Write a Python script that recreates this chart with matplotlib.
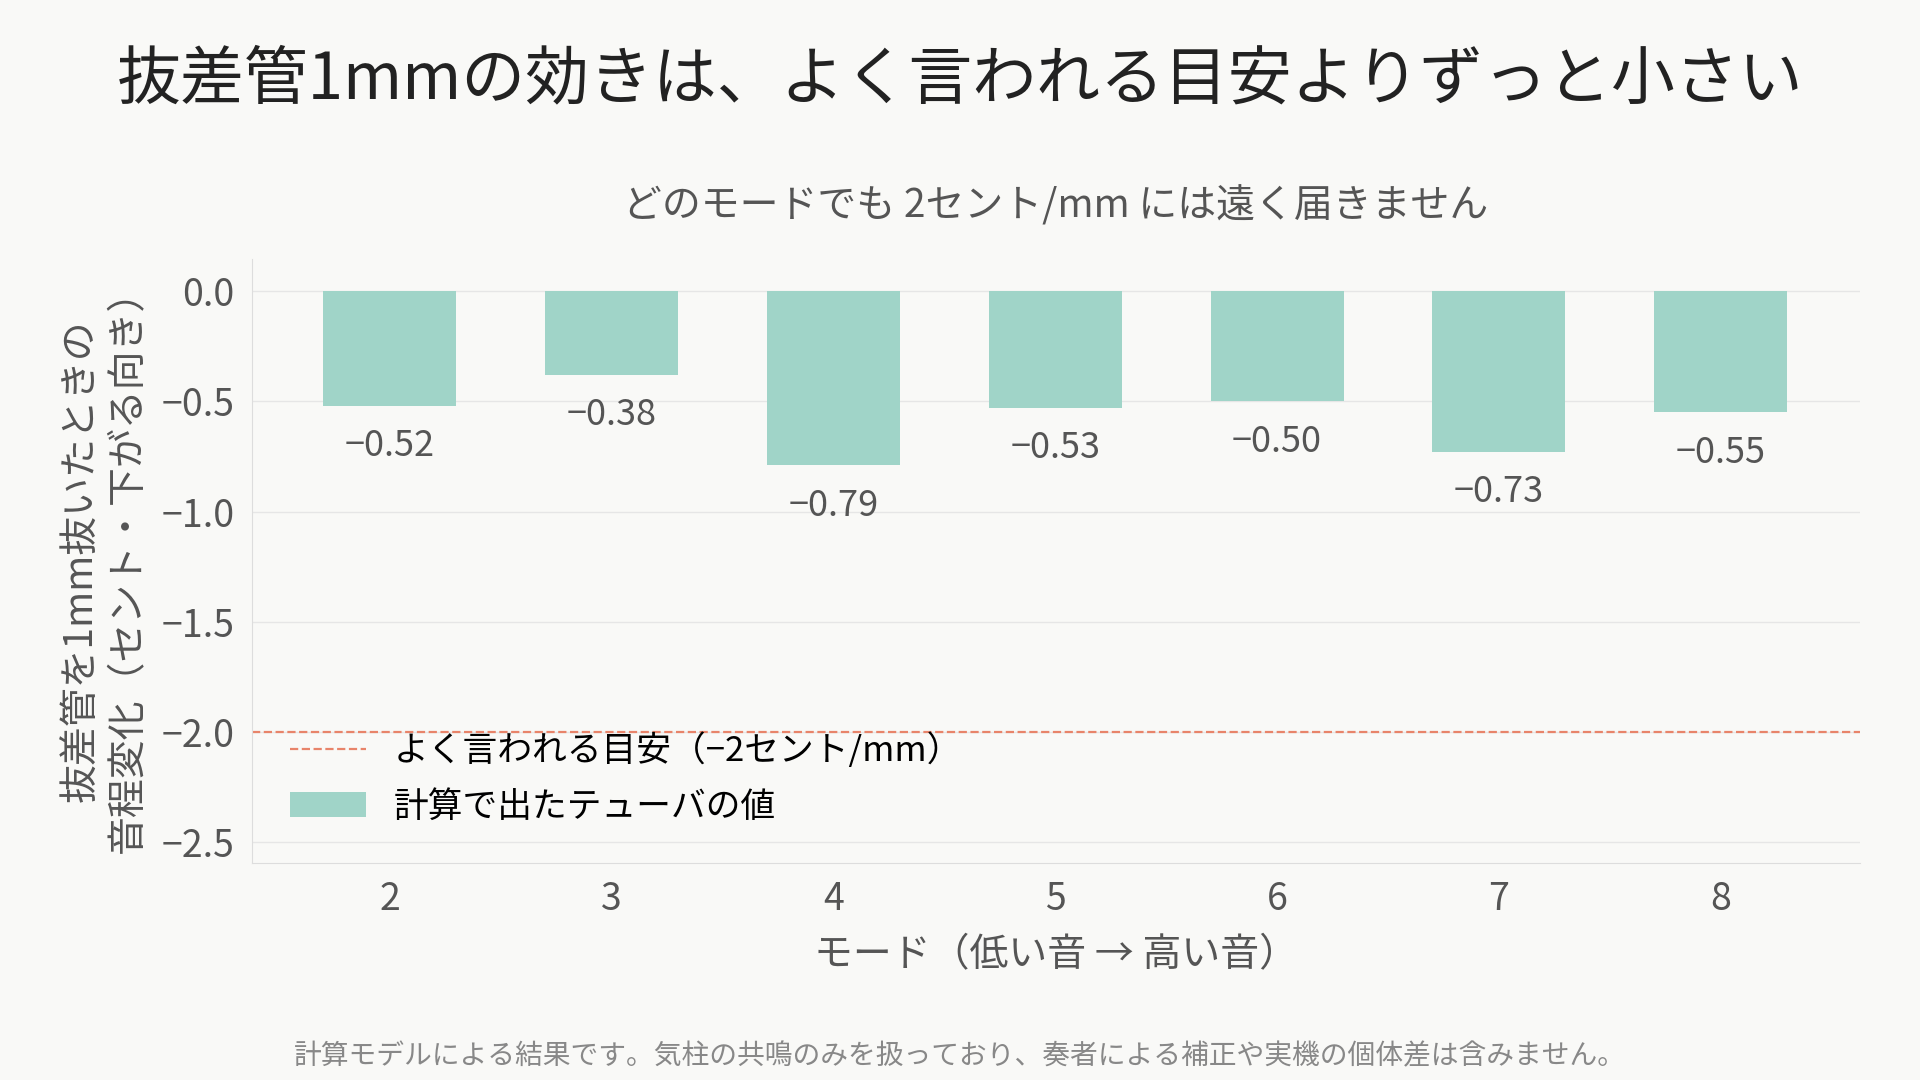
import matplotlib
matplotlib.use("Agg")
import matplotlib.pyplot as plt

plt.rcParams['font.family'] = ['Noto Sans CJK JP', 'DejaVu Sans']

modes = [2, 3, 4, 5, 6, 7, 8]
values = [-0.52, -0.38, -0.79, -0.53, -0.50, -0.73, -0.55]
labels = ["−0.52", "−0.38", "−0.79", "−0.53", "−0.50", "−0.73", "−0.55"]
guide = -2.0
yticks = [0.0, -0.5, -1.0, -1.5, -2.0, -2.5]
ytick_labels = ["0.0", "−0.5", "−1.0", "−1.5", "−2.0", "−2.5"]

bg = "#f9f9f7"
txt = "#555555"
fig = plt.figure(figsize=(19.2, 10.8), dpi=100, facecolor=bg)
ax = fig.add_axes([0.131, 0.201, 0.838, 0.559], facecolor=bg)

ax.bar(modes, values, width=0.6, color="#a0d4c8", label="計算で出たテューバの値", zorder=3)
ax.axhline(guide, color="#e8846a", linestyle="--", linewidth=1.6, label="よく言われる目安（−2セント/mm）", zorder=2)
for m, v, l in zip(modes, values, labels):
    ax.annotate(l, (m, v), xytext=(0, -16), textcoords="offset points",
                ha="center", va="top", fontsize=26, color=txt)

ax.set_xlim(1.377, 8.63)
ax.set_ylim(-2.594, 0.145)
ax.set_xticks(modes)
ax.set_yticks(yticks)
ax.set_yticklabels(ytick_labels)
ax.tick_params(labelsize=27, colors=txt, length=0, pad=12)
ax.grid(axis="y", color="#e6e6e6", linewidth=1, zorder=0)
for s in ["top", "right"]:
    ax.spines[s].set_visible(False)
for s in ["left", "bottom"]:
    ax.spines[s].set_color("#dddddd")

ax.set_xlabel("モード（低い音 → 高い音）", fontsize=28, color=txt, labelpad=12)
ax.set_ylabel("抜差管を1mm抜いたときの\n音程変化（セント・下がる向き）", fontsize=28, color=txt, labelpad=10)
ax.set_title("どのモードでも 2セント/mm には遠く届きません", fontsize=28, color=txt, pad=30)

ax.legend(loc="lower left", bbox_to_anchor=(0.0, 0.0), fontsize=25,
          frameon=False, handlelength=2.2, labelspacing=0.6, borderaxespad=0.7)

fig.text(0.5, 0.926, "抜差管1mmの効きは、よく言われる目安よりずっと小さい",
         ha="center", va="center", fontsize=46, color="#222222")
fig.text(0.5, 0.022, "計算モデルによる結果です。気柱の共鳴のみを扱っており、奏者による補正や実機の個体差は含みません。",
         ha="center", va="center", fontsize=20, color="#888888")

fig.savefig("out.png", dpi=100, facecolor=bg)
